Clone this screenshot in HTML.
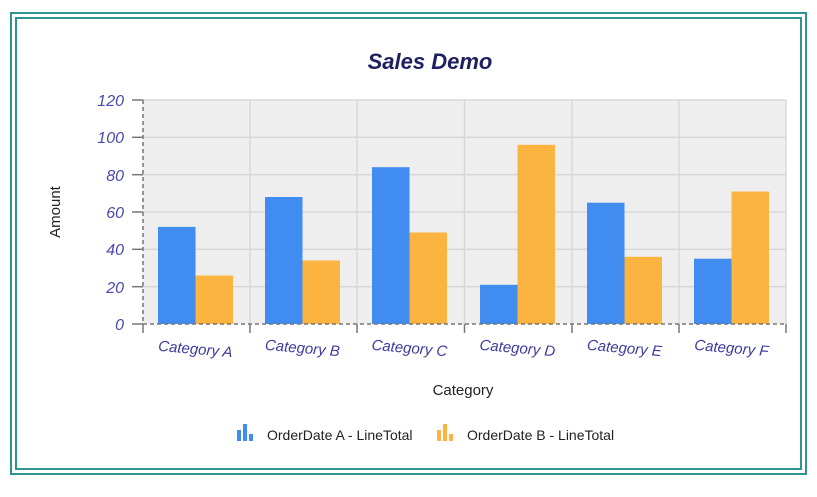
<!DOCTYPE html>
<html><head><meta charset="utf-8"><style>
body{margin:0;background:#fff;width:817px;height:492px;overflow:hidden;font-family:"Liberation Sans",sans-serif}
</style></head><body>
<svg width="817" height="492" xmlns="http://www.w3.org/2000/svg" font-family="Liberation Sans, sans-serif">
<rect x="11" y="13" width="795" height="461" fill="none" stroke="#2e9490" stroke-width="2"/>
<rect x="16" y="18" width="785" height="451" fill="none" stroke="#2e9490" stroke-width="2"/>
<text x="430" y="69" text-anchor="middle" font-size="22" font-weight="bold" font-style="italic" fill="#1f2060">Sales Demo</text>
<rect x="143" y="100" width="643" height="224" fill="#eeeeee"/>
<g stroke="#d8d8d8" stroke-width="1.5">
<line x1="143" y1="137.3" x2="786" y2="137.3"/><line x1="143" y1="174.7" x2="786" y2="174.7"/>
<line x1="143" y1="212" x2="786" y2="212"/><line x1="143" y1="249.3" x2="786" y2="249.3"/>
<line x1="143" y1="286.7" x2="786" y2="286.7"/><line x1="143" y1="100" x2="786" y2="100"/>
<line x1="250" y1="100" x2="250" y2="324"/><line x1="357" y1="100" x2="357" y2="324"/>
<line x1="464.5" y1="100" x2="464.5" y2="324"/><line x1="572" y1="100" x2="572" y2="324"/>
<line x1="679" y1="100" x2="679" y2="324"/><line x1="786" y1="100" x2="786" y2="324"/>
</g>
<g>
<rect x="158" y="226.9" width="37.5" height="97.1" fill="#418cf0"/><rect x="195.5" y="275.5" width="37.5" height="48.5" fill="#fcb441"/>
<rect x="265" y="197" width="37.5" height="127" fill="#418cf0"/><rect x="302.5" y="260.5" width="37.5" height="63.5" fill="#fcb441"/>
<rect x="372" y="167.2" width="37.5" height="156.8" fill="#418cf0"/><rect x="409.5" y="232.5" width="37.5" height="91.5" fill="#fcb441"/>
<rect x="480" y="284.8" width="37.5" height="39.2" fill="#418cf0"/><rect x="517.5" y="144.8" width="37.5" height="179.2" fill="#fcb441"/>
<rect x="587" y="202.7" width="37.5" height="121.3" fill="#418cf0"/><rect x="624.5" y="256.8" width="37.5" height="67.2" fill="#fcb441"/>
<rect x="694" y="258.7" width="37.5" height="65.3" fill="#418cf0"/><rect x="731.5" y="191.5" width="37.5" height="132.5" fill="#fcb441"/>
</g>
<g stroke="#777" stroke-width="1.5">
<line x1="143" y1="100" x2="143" y2="324" stroke-dasharray="4,3"/>
<line x1="143" y1="324" x2="786" y2="324" stroke-dasharray="4,3"/>
<line x1="132" y1="100" x2="143" y2="100"/><line x1="132" y1="137.3" x2="143" y2="137.3"/>
<line x1="132" y1="174.7" x2="143" y2="174.7"/><line x1="132" y1="212" x2="143" y2="212"/>
<line x1="132" y1="249.3" x2="143" y2="249.3"/><line x1="132" y1="286.7" x2="143" y2="286.7"/>
<line x1="132" y1="324" x2="143" y2="324"/>
<line x1="143" y1="324" x2="143" y2="333"/><line x1="250" y1="324" x2="250" y2="333"/>
<line x1="357" y1="324" x2="357" y2="333"/><line x1="464.5" y1="324" x2="464.5" y2="333"/>
<line x1="572" y1="324" x2="572" y2="333"/><line x1="679" y1="324" x2="679" y2="333"/>
<line x1="786" y1="324" x2="786" y2="333"/>
</g>
<g font-size="16" font-style="italic" fill="#4a4aa8" text-anchor="end">
<text x="124" y="106">120</text><text x="124" y="143">100</text><text x="124" y="181">80</text>
<text x="124" y="218">60</text><text x="124" y="255">40</text><text x="124" y="293">20</text><text x="124" y="330">0</text>
</g>
<g font-size="15" font-style="italic" fill="#3d3a9c" text-anchor="middle">
<text transform="translate(195,354) rotate(5)">Category A</text>
<text transform="translate(302,353) rotate(5)">Category B</text>
<text transform="translate(409,353) rotate(5)">Category C</text>
<text transform="translate(517,353) rotate(5)">Category D</text>
<text transform="translate(624,353) rotate(5)">Category E</text>
<text transform="translate(731,353) rotate(5)">Category F</text>
</g>
<text x="463" y="395" text-anchor="middle" font-size="15" fill="#222">Category</text>
<text transform="translate(60,212) rotate(-90)" text-anchor="middle" font-size="15" fill="#222">Amount</text>
<g fill="#418cf0"><rect x="237" y="430" width="4" height="11"/><rect x="243" y="424" width="4" height="17"/><rect x="249" y="434" width="4" height="7"/></g>
<g fill="#fcb441"><rect x="437" y="430" width="4" height="11"/><rect x="443" y="424" width="4" height="17"/><rect x="449" y="434" width="4" height="7"/></g>
<text x="267" y="440" font-size="14" fill="#222">OrderDate A - LineTotal</text>
<text x="467" y="440" font-size="14" fill="#222">OrderDate B - LineTotal</text>
</svg>
</body></html>
